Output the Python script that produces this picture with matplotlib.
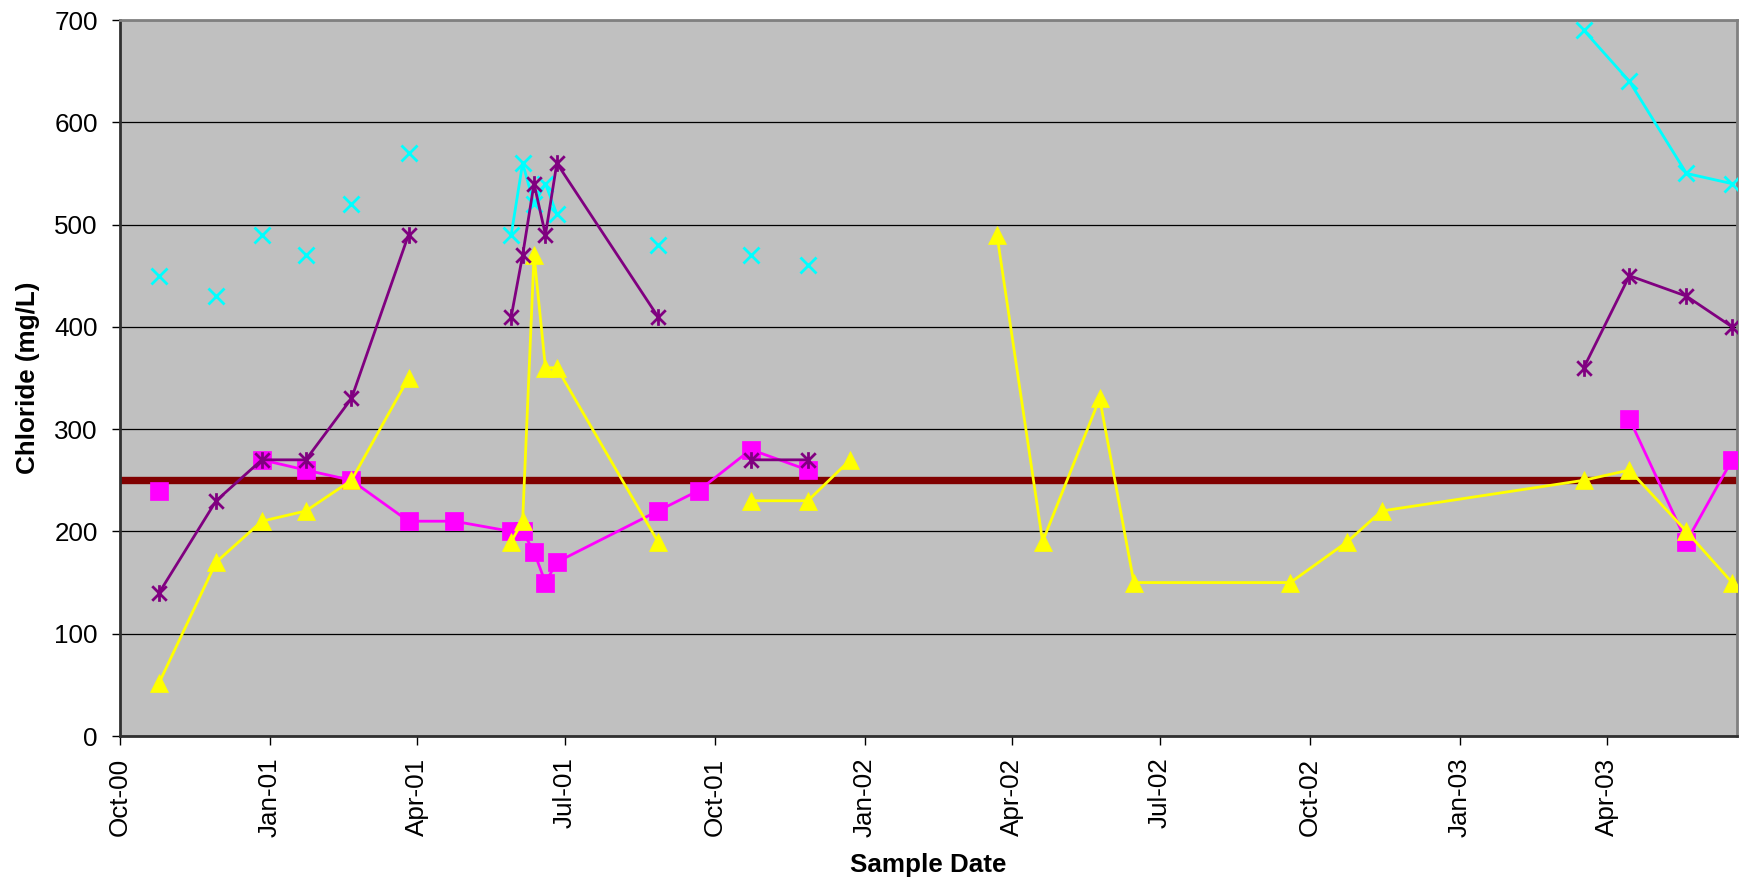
import numpy as np
import pandas as pd
import matplotlib.pyplot as plt
import matplotlib.dates as mdates
from matplotlib.path import Path

plt.rcParams['font.family'] = ['Liberation Sans', 'DejaVu Sans']

# sample dates (union over all wells)
dates = pd.to_datetime([
    '2000-10-25', '2000-11-29', '2000-12-27', '2001-01-23', '2001-02-20',
    '2001-03-27', '2001-04-24', '2001-05-29', '2001-06-05', '2001-06-12',
    '2001-06-19', '2001-06-26', '2001-08-27', '2001-09-21', '2001-10-23',
    '2001-11-27', '2001-12-23', '2002-03-23', '2002-04-20', '2002-05-25',
    '2002-06-15', '2002-09-19', '2002-10-24', '2002-11-14', '2003-03-18',
    '2003-04-15', '2003-05-20', '2003-06-17',
])

N = None
magenta = [240, N, 270, 260, 250, 210, 210, 200, 200, 180, 150, 170, 220, 240,
           280, 260, N, N, N, N, N, N, N, N, N, 310, 190, 270]
yellow = [52, 170, 210, 220, 250, 350, N, 190, 210, 470, 360, 360, 190, N,
          230, 230, 270, 490, 190, 330, 150, 150, 190, 220, 250, 260, 200, 150]
cyan = [450, 430, 490, 470, 520, 570, N, 490, 560, 520, 540, 510, 480, N,
        470, 460, N, N, N, N, N, N, N, N, 690, 640, 550, 540]
purple = [140, 230, 270, 270, 330, 490, N, 410, 470, 540, 490, 560, 410, N,
          270, 270, N, N, N, N, N, N, N, N, 360, 450, 430, 400]

# where the lines are not joined although both ends have values
yellow_breaks = ['2001-12-23']
cyan_linked = ['2001-05-29', '2001-06-05', '2001-06-12', '2001-06-19',
               '2001-06-26', '2003-03-18', '2003-04-15', '2003-05-20',
               '2003-06-17']

limit = 250

star = Path([(-1, -1), (1, 1), (-1, 1), (1, -1), (0, -1.15), (0, 1.15)],
            [Path.MOVETO, Path.LINETO] * 3)


def draw(ax, vals, color, marker, ms, z, breaks=(), linked=None, open_marker=False):
    s = pd.Series(vals, index=dates, dtype=float)
    line = s.copy()
    if linked is not None:
        line = s.where(s.index.isin(pd.to_datetime(linked)))
    cuts = [dates.get_loc(pd.Timestamp(b)) + 1 for b in breaks]
    edges = [0] + cuts + [len(dates)]
    for a, b in zip(edges[:-1], edges[1:]):
        part = line.iloc[a:b]
        ax.plot(part.index, part.values, color=color, lw=2.0, zorder=z)
    if open_marker:
        ax.plot(s.index, s.values, ls='none', marker=marker, ms=ms,
                mec=color, mfc='none', mew=2.0, zorder=z + 0.5)
    else:
        ax.plot(s.index, s.values, ls='none', marker=marker, ms=ms,
                mec=color, mfc=color, mew=0.5, zorder=z + 0.5)


fig = plt.figure(figsize=(17.39, 8.83), dpi=100)
ax = fig.add_axes([120 / 1739, 147 / 883, 1617 / 1739, 716 / 883])
ax.set_facecolor('#C0C0C0')

ax.axhline(limit, color='#800000', lw=5.3, zorder=2, solid_capstyle='round')

draw(ax, magenta, '#FF00FF', 's', 12.5, 3)
draw(ax, yellow, '#FFFF00', '^', 13, 4, breaks=yellow_breaks)
draw(ax, cyan, '#00FFFF', 'x', 12, 5, linked=cyan_linked, open_marker=True)
draw(ax, purple, '#800080', star, 12, 6, open_marker=True)

ax.set_ylim(0, 700)
ax.set_yticks(range(0, 701, 100))
ax.set_xlim(pd.Timestamp('2000-10-01'), pd.Timestamp('2003-06-20'))
ax.xaxis.set_major_locator(mdates.MonthLocator(bymonth=[1, 4, 7, 10]))
ax.xaxis.set_major_formatter(mdates.DateFormatter('%b-%y'))
plt.setp(ax.get_xticklabels(), rotation=90)

ax.yaxis.grid(True, color='black', lw=0.9)
ax.set_axisbelow(True)
ax.tick_params(axis='y', length=6, width=1, pad=10, labelsize=18.7)
ax.tick_params(axis='x', length=6.5, width=1, pad=9, labelsize=18.7)

for side in ['left', 'bottom']:
    ax.spines[side].set_color('#303030')
    ax.spines[side].set_linewidth(2)
for side in ['top', 'right']:
    ax.spines[side].set_color('#808080')
    ax.spines[side].set_linewidth(2)

ax.set_ylabel('Chloride (mg/L)', fontsize=18.7, fontweight='bold', va='center')
ax.yaxis.set_label_coords(-0.057, 0.5)
ax.set_xlabel('Sample Date', fontsize=18.7, fontweight='bold', va='center')
ax.xaxis.set_label_coords(0.5, -0.18)

fig.savefig('out.png', dpi=100)
